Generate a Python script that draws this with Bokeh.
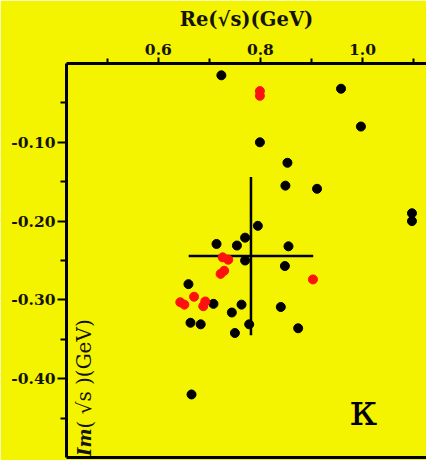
from bokeh.plotting import figure
from bokeh.models import LinearAxis, FixedTicker, Label, Range1d, ColumnDataSource
from bokeh.embed import file_html
from bokeh.resources import INLINE

# ---- data ----
black_re = [0.7235, 0.958, 0.997, 0.799, 0.853, 0.849, 0.911, 1.097, 1.097,
            0.795, 0.770, 0.714, 0.754, 0.855, 0.770, 0.848, 0.659, 0.708,
            0.763, 0.840, 0.744, 0.663, 0.683, 0.778, 0.874, 0.750, 0.665]
black_im = [-0.015, -0.032, -0.080, -0.100, -0.126, -0.155, -0.159, -0.190, -0.200,
            -0.206, -0.221, -0.229, -0.231, -0.232, -0.250, -0.257, -0.280, -0.305,
            -0.306, -0.309, -0.316, -0.329, -0.331, -0.331, -0.336, -0.342, -0.420]

red_re = [0.799, 0.799, 0.726, 0.737, 0.729, 0.722, 0.903, 0.670, 0.643, 0.651, 0.692, 0.688]
red_im = [-0.035, -0.041, -0.246, -0.249, -0.263, -0.267, -0.274, -0.296, -0.303, -0.306, -0.302, -0.308]

# mean value with its spread (crosshair)
mean_re = [0.7815]
mean_im = [-0.2443]
re_low = [0.6595]
re_high = [0.9035]
im_low = [-0.345]
im_high = [-0.144]

x_major = [0.6, 0.8, 1.0]
x_minor = [0.5, 0.7, 0.9, 1.1]
x_labels = ["0.6", "0.8", "1.0"]
y_major = [-0.10, -0.20, -0.30, -0.40]
y_minor = [-0.05, -0.15, -0.25, -0.35, -0.45]
y_labels = ["-0.10", "-0.20", "-0.30", "-0.40"]

BG = "#f4f400"
INK = "#141400"
FONT = "DejaVu Serif"
W, H = 426, 460

p = figure(width=W, height=H, x_range=Range1d(0.42, 1.1255), y_range=Range1d(-0.50, 0.0),
           output_backend="svg", toolbar_location=None, x_axis_location="above",
           min_border_left=66, min_border_top=63, min_border_right=0, min_border_bottom=3)
p.background_fill_color = BG
p.border_fill_color = BG
p.outline_line_color = None
p.grid.visible = False

# top axis
xa = p.xaxis[0]
xa.ticker = FixedTicker(ticks=x_major, minor_ticks=x_minor)
xa.major_label_overrides = {v: s for v, s in zip(x_major, x_labels)}
xa.axis_line_width = 3
xa.major_tick_line_width = 2
xa.minor_tick_line_width = 2
xa.major_tick_out = 6
xa.major_tick_in = 0
xa.minor_tick_out = 5
xa.minor_tick_in = 0
xa.major_label_standoff = 3
xa.major_label_text_font = FONT
xa.major_label_text_font_style = "bold"
xa.major_label_text_font_size = "15.5px"
xa.major_label_text_color = INK
xa.axis_label = "Re(\u221as)(GeV)"
xa.axis_label_text_font = FONT
xa.axis_label_text_font_style = "bold"
xa.axis_label_text_font_size = "19.5px"
xa.axis_label_text_color = INK
xa.axis_label_standoff = 10

# left axis
ya = p.yaxis[0]
ya.ticker = FixedTicker(ticks=y_major, minor_ticks=y_minor)
ya.major_label_overrides = {v: s for v, s in zip(y_major, y_labels)}
ya.axis_line_width = 3
ya.major_tick_line_width = 2
ya.minor_tick_line_width = 2
ya.major_tick_out = 9
ya.major_tick_in = 0
ya.minor_tick_out = 6
ya.minor_tick_in = 0
ya.major_label_standoff = 2
ya.major_label_text_font = FONT
ya.major_label_text_font_style = "bold"
ya.major_label_text_font_size = "15.5px"
ya.major_label_text_color = INK

# bottom frame line
bx = LinearAxis(ticker=FixedTicker(ticks=[]), major_label_text_font_size="0px",
                major_tick_line_color=None, minor_tick_line_color=None,
                major_label_standoff=0, axis_line_width=3)
p.add_layout(bx, "below")

# points
p.scatter(black_re, black_im, size=9, color="black")
src = ColumnDataSource(dict(x=mean_re, y=mean_im, x0=re_low, x1=re_high, y0=im_low, y1=im_high))
p.segment(x0="x0", y0="y", x1="x1", y1="y", source=src, line_color="black", line_width=2.5)
p.segment(x0="x", y0="y0", x1="x", y1="y1", source=src, line_color="black", line_width=2.5)
p.scatter(red_re, red_im, size=9, color="#ff1010")

# vertical axis title inside the frame (screen units relative to the frame)
p.add_layout(Label(x=18, y=29, x_units="screen", y_units="screen", text="Im", angle=1.5708,
                   text_font=FONT, text_font_style="bold italic", text_font_size="18px",
                   text_baseline="middle", text_align="right", text_color=INK))
p.add_layout(Label(x=18, y=29, x_units="screen", y_units="screen", text="( \u221as )(GeV)", angle=1.5708,
                   text_font=FONT, text_font_size="20px",
                   text_baseline="middle", text_align="left", text_color=INK))

# kappa marker
p.add_layout(Label(x=297, y=48, x_units="screen", y_units="screen", text="\u03ba",
                   text_font=FONT, text_font_size="44px",
                   text_baseline="middle", text_align="center", text_color="black"))

open("out.html", "w").write(file_html(p, INLINE))
